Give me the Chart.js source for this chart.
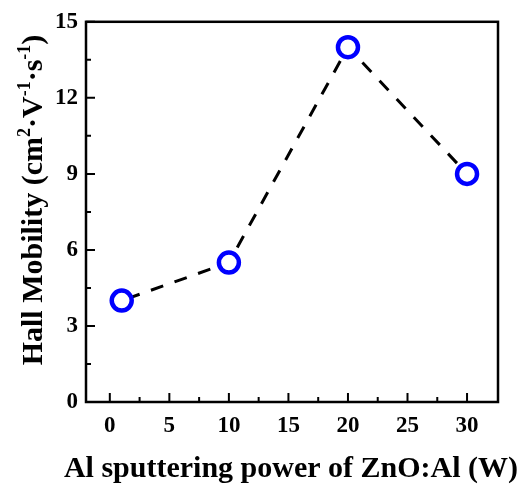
<!DOCTYPE html>
<html>
<head>
<meta charset="utf-8">
<script src="https://cdn.jsdelivr.net/npm/chart.js@4.4.0/dist/chart.umd.min.js"></script>
<style>
  html, body { margin: 0; padding: 0; background: #fff; }
  #wrap { width: 522px; height: 486px; }
</style>
</head>
<body>
<div id="wrap"><canvas id="chartMobility" width="522" height="486"></canvas></div>
<script>
// data
const powerW = [1, 10, 20, 30];
const mobility = [4, 5.5, 14, 9];
const xTicks = [0, 5, 10, 15, 20, 25, 30];
const yTicks = [0, 3, 6, 9, 12, 15];
const xTitle = "Al sputtering power of ZnO:Al (W)";
// y title pieces: [text, superscript?]
const yTitleParts = [["Hall Mobility (cm", false], ["2", true], ["\u00b7V", false], ["-1", true], ["\u00b7s", false], ["-1", true], [")", false]];

const FONT = "'Liberation Serif', 'Times New Roman', serif";

// frame, inward ticks and axis titles
const framePlugin = {
    id: 'frame',
    afterDraw(chart) {
        const ctx = chart.ctx;
        const a = chart.chartArea;
        const xs = chart.scales.x, ys = chart.scales.y;
        ctx.save();
        ctx.strokeStyle = '#000';
        ctx.lineWidth = 2.5;
        ctx.strokeRect(a.left, a.top, a.right - a.left, a.bottom - a.top);

        ctx.lineWidth = 2;
        ctx.beginPath();
        xTicks.forEach((v, i) => {
            let px = xs.getPixelForValue(v);
            ctx.moveTo(px, a.bottom);
            ctx.lineTo(px, a.bottom - 9);
            if (i < xTicks.length - 1) {
                let mx = xs.getPixelForValue((v + xTicks[i + 1]) / 2);
                ctx.moveTo(mx, a.bottom);
                ctx.lineTo(mx, a.bottom - 5);
            }
        });
        yTicks.forEach((v, i) => {
            let py = ys.getPixelForValue(v);
            ctx.moveTo(a.left, py);
            ctx.lineTo(a.left + 9, py);
            if (i < yTicks.length - 1) {
                let my = ys.getPixelForValue((v + yTicks[i + 1]) / 2);
                ctx.moveTo(a.left, my);
                ctx.lineTo(a.left + 5, my);
            }
        });
        ctx.stroke();

        // x title
        ctx.fillStyle = '#000';
        ctx.font = "bold 30px " + FONT;
        ctx.textAlign = 'center';
        ctx.textBaseline = 'alphabetic';
        ctx.fillText(xTitle, 291, 477);

        // y title, rotated, with superscripts
        const big = "bold 30px " + FONT, small = "bold 18px " + FONT;
        let total = 0;
        yTitleParts.forEach(p => {
            ctx.font = p[1] ? small : big;
            total += ctx.measureText(p[0]).width;
        });
        ctx.translate(42, 200);
        ctx.rotate(-Math.PI / 2);
        ctx.textAlign = 'left';
        let x = -total / 2;
        yTitleParts.forEach(p => {
            ctx.font = p[1] ? small : big;
            ctx.fillText(p[0], x, p[1] ? -12 : 0);
            x += ctx.measureText(p[0]).width;
        });
        ctx.restore();
    }
};

new Chart(document.getElementById('chartMobility'), {
    type: 'scatter',
    data: {
        datasets: [{
            data: powerW.map((p, i) => ({ x: p, y: mobility[i] })),
            showLine: true,
            borderColor: '#000',
            borderWidth: 3,
            borderDash: [13, 12],
            borderDashOffset: -6,
            pointRadius: 10,
            pointHoverRadius: 10,
            pointBorderWidth: 4.5,
            pointBorderColor: '#0000ff',
            pointBackgroundColor: '#fff'
        }]
    },
    options: {
        responsive: false,
        animation: false,
        layout: { padding: { left: 0, top: 19, right: 24, bottom: 0 } },
        scales: {
            x: {
                type: 'linear',
                min: -2,
                max: 32.6,
                afterFit(scale) { scale.height = 84; },
                afterBuildTicks(scale) { scale.ticks = xTicks.map(v => ({ value: v })); },
                grid: { display: false, drawTicks: false },
                border: { display: false },
                ticks: { padding: 10, color: '#000', font: { family: FONT, size: 23, weight: 'bold' } }
            },
            y: {
                min: 0,
                max: 15,
                afterFit(scale) { scale.width = 86; },
                afterBuildTicks(scale) { scale.ticks = yTicks.map(v => ({ value: v })); },
                grid: { display: false, drawTicks: false },
                border: { display: false },
                ticks: { padding: 8, color: '#000', font: { family: FONT, size: 23, weight: 'bold' } }
            }
        },
        plugins: {
            legend: { display: false },
            tooltip: { enabled: false }
        }
    },
    plugins: [framePlugin]
});
</script>
</body>
</html>
